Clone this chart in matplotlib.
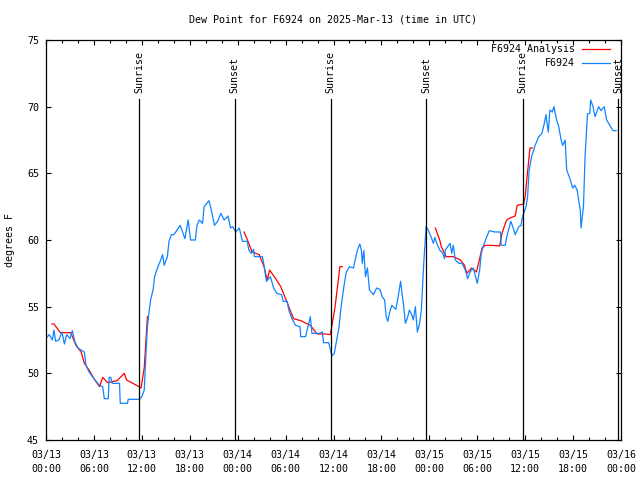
import numpy as np
import matplotlib
matplotlib.use("Agg")
import matplotlib.pyplot as plt
from matplotlib.ticker import MultipleLocator

# hours after 2025-03-13 00:00 UTC
obs_hours = [0.1, 0.4, 0.8, 1.0, 1.2, 1.6, 2.0, 2.3, 2.6, 3.0, 3.3, 3.6, 4.0, 4.8, 5.0,
             5.4, 6.0, 6.7, 7.1, 7.3, 7.8, 7.9, 8.1, 8.3, 9.2, 9.3, 10.2, 10.3, 11.7,
             12.0, 12.3, 12.5, 12.7, 12.9, 13.1, 13.4, 13.6, 13.95, 14.3, 14.6, 14.8,
             15.2, 15.4, 15.7, 16.0, 16.25, 16.8, 17.1, 17.4, 17.8, 18.1, 18.7, 18.9,
             19.2, 19.6, 19.8, 20.4, 20.6, 21.1, 21.5, 21.9, 22.3, 22.8, 23.1, 23.4,
             23.75, 24.2, 24.6, 25.2, 25.4, 25.7, 26.0, 26.1, 27.1, 27.3, 27.6, 28.1,
             28.5, 28.9, 29.5, 29.7, 30.2, 30.4, 30.8, 31.25, 31.8, 31.9, 32.5, 33.1,
             33.3, 34.2, 34.6, 34.75, 35.4, 35.8, 36.1, 36.4, 36.7, 36.9, 37.3, 37.6,
             38.0, 38.5, 38.8, 39.0, 39.3, 39.5, 39.6, 39.8, 40.0, 40.25, 40.5, 41.0,
             41.4, 41.8, 42.1, 42.4, 42.6, 42.8, 43.0, 43.3, 43.8, 44.0, 44.4, 44.6,
             44.8, 45.0, 45.3, 45.5, 45.8, 46.0, 46.25, 46.5, 46.8, 47.0, 47.3, 47.6,
             47.9, 48.3, 48.5, 48.7, 48.9, 49.3, 49.7, 49.9, 50.0, 50.6, 50.8, 51.0,
             51.25, 51.7, 52.1, 52.5, 52.8, 53.1, 53.5, 53.8, 54.0, 54.3, 54.5, 54.8,
             55.1, 55.5, 56.2, 56.9, 57.0, 57.5, 57.7, 58.2, 58.5, 58.75, 59.2, 59.5,
             59.6, 60.1, 60.3, 60.5, 60.8, 61.25, 61.7, 62.1, 62.4, 62.6, 62.9, 63.1,
             63.4, 63.6, 63.9, 64.2, 64.5, 64.7, 65.0, 65.2, 65.6, 65.95, 66.2, 66.5,
             66.9, 67.0, 67.3, 67.5, 67.8, 68.1, 68.2, 68.5, 68.75, 69.2, 69.5, 69.9,
             70.2, 70.6, 71.0, 71.4]
obs_dewpt = [52.7, 52.9, 52.5, 53.25, 52.4, 52.5, 53.1, 52.2, 52.9, 52.6, 53.2, 52.4, 51.9, 51.6, 50.6,
             50.1, 49.6, 49.1, 49.0, 48.1, 48.1, 49.7, 49.7, 49.25, 49.25, 47.75, 47.75, 48.05, 48.05,
             48.25, 48.75, 51.25, 53.5, 54.6, 55.5, 56.25, 57.25, 57.9, 58.4, 58.9, 58.1,
             58.75, 59.9, 60.4, 60.4, 60.6, 61.1, 60.6, 60.1, 61.5, 60.0, 60.0, 61.1,
             61.5, 61.25, 62.5, 62.95, 62.5, 61.1, 61.4, 62.0, 61.5, 61.8, 60.9, 61.0,
             60.6, 60.9, 59.9, 59.9, 59.25, 59.0, 59.3, 58.75, 58.75, 58.1, 56.9, 57.25,
             56.4, 56.0, 55.9, 55.4, 55.4, 54.75, 54.1, 53.6, 53.5, 52.75, 52.75, 54.25,
             53.0, 53.0, 53.1, 52.3, 52.3, 51.3, 51.5, 52.5, 53.5, 54.75, 56.5, 57.6,
             58.0, 57.9, 58.75, 59.25, 59.7, 59.2, 58.25, 59.2, 57.25, 57.9, 56.25, 55.9,
             56.4, 56.3, 55.75, 55.5, 54.25, 53.9, 54.5, 55.1, 54.8, 55.4, 56.9, 55.9,
             55.0, 53.75, 54.25, 54.75, 54.4, 54.0, 55.0, 53.1, 53.8, 54.75, 58.25, 61.0,
             60.7, 60.1, 59.75, 60.2, 59.8, 59.25, 59.0, 58.6, 59.25, 59.75, 59.0, 59.6,
             58.5, 58.25, 58.25, 57.75, 57.1, 57.6, 57.9, 57.2, 56.75, 57.75, 59.0, 59.6,
             60.1, 60.7, 60.6, 60.6, 59.6, 59.6, 60.25, 61.4, 60.9, 60.4, 61.0, 61.1,
             61.6, 62.5, 63.2, 65.25, 66.25, 67.1, 67.75, 68.0, 68.75, 69.4, 68.1, 69.75,
             69.6, 70.0, 69.1, 68.5, 67.5, 67.1, 67.5, 65.25, 64.6, 63.9, 64.1, 63.75,
             62.25, 60.9, 62.5, 66.25, 69.45, 69.5, 70.5, 70.0, 69.25, 70.0, 69.7, 70.0,
             69.0, 68.6, 68.2, 68.2]

ana_hours = [0.75, 1.0, 1.8, 3.1, 3.75, 4.4, 4.8, 5.4, 6.0, 6.7, 7.1, 7.7, 8.9, 9.8, 10.1,
             11.5, 11.9, 12.3, 12.7,
             np.nan,
             24.8, 25.4, 25.8, 26.7, 27.3, 27.7, 28.0, 28.75, 29.4, 30.0, 30.4, 31.0,
             31.9, 33.1, 33.95, 35.0, 35.6, 36.2, 36.5, 36.8, 37.1,
             np.nan,
             48.75, 49.3, 49.5, 49.9, 50.1, 51.0, 51.9, 52.4, 52.7, 53.3, 53.9, 54.3,
             54.6, 55.0, 55.8, 56.8, 57.1, 57.6, 57.9, 58.75, 59.0, 59.8, 60.0, 60.2,
             60.6, 60.9]
ana_dewpt = [53.7, 53.7, 53.05, 53.05, 52.1, 51.6, 50.75, 50.25, 49.6, 49.0, 49.7, 49.3, 49.45, 50.0, 49.5,
             49.05, 48.9, 50.4, 54.25,
             np.nan,
             60.6, 59.75, 59.1, 58.9, 58.0, 57.0, 57.75, 57.1, 56.5, 55.6, 55.0, 54.1,
             53.95, 53.6, 52.95, 52.95, 52.9, 55.0, 56.5, 58.0, 58.0,
             np.nan,
             60.9, 60.0, 59.5, 59.0, 58.75, 58.75, 58.5, 58.1, 57.5, 57.9, 57.6, 58.6,
             59.4, 59.6, 59.6, 59.55, 60.5, 61.4, 61.6, 61.8, 62.6, 62.7, 63.25, 64.5,
             66.9, 66.9]

sun_hours = [11.67, 23.62, 35.67, 47.62, 59.67, 71.62]
sun_labels = ["Sunrise", "Sunset", "Sunrise", "Sunset", "Sunrise", "Sunset"]

tick_hours = list(range(0, 73, 6))
tick_labels = ["03/13\n00:00", "03/13\n06:00", "03/13\n12:00", "03/13\n18:00",
               "03/14\n00:00", "03/14\n06:00", "03/14\n12:00", "03/14\n18:00",
               "03/15\n00:00", "03/15\n06:00", "03/15\n12:00", "03/15\n18:00",
               "03/16\n00:00"]

plt.rcParams['font.family'] = 'DejaVu Sans Mono'
plt.rcParams['font.size'] = 7.2

fig = plt.figure(figsize=(6.4, 4.8), dpi=100)
ax = fig.add_axes([46/640, 40/480, 575/640, 400/480])

red = '#ff0000'
blue = '#1084ff'

ax.plot(ana_hours, ana_dewpt, color=red, lw=0.9)
ax.plot(obs_hours, obs_dewpt, color=blue, lw=0.9)

for h, lab in zip(sun_hours, sun_labels):
    ax.plot([h, h], [45, 70.6], color='black', lw=0.9)
    ax.text(h, 71.05, lab, rotation=90, ha='center', va='bottom')

ax.set_xlim(0, 72)
ax.set_ylim(45, 75)
ax.set_xticks(tick_hours)
ax.set_xticklabels(tick_labels, linespacing=1.5)
ax.xaxis.set_minor_locator(MultipleLocator(2))
ax.set_yticks(range(45, 76, 5))

ax.tick_params(which='both', direction='in', top=True, right=True, width=0.8, color='black')
ax.tick_params(which='major', length=3.3, pad=5)
ax.tick_params(axis='x', which='major', pad=7)
ax.tick_params(which='minor', length=2.4)
for s in ax.spines.values():
    s.set_linewidth(0.9)

# legend, drawn by hand so the text is right aligned
ax.text((575 - 46) / 575, (440 - 49) / 400, "F6924 Analysis", transform=ax.transAxes,
        ha='right', va='center')
ax.text((575 - 46) / 575, (440 - 63) / 400, "F6924", transform=ax.transAxes,
        ha='right', va='center')
ax.plot([(582 - 46) / 575, (610 - 46) / 575], [(440 - 49) / 400] * 2,
        transform=ax.transAxes, color=red, lw=0.9)
ax.plot([(582 - 46) / 575, (610 - 46) / 575], [(440 - 63) / 400] * 2,
        transform=ax.transAxes, color=blue, lw=0.9)

fig.text(333/640, 1 - 20/480, "Dew Point for F6924 on 2025-Mar-13 (time in UTC)",
         ha='center', va='center')
fig.text(10/640, 0.5, "degrees F", rotation=90, ha='center', va='center')

fig.savefig("out.png", dpi=100)
